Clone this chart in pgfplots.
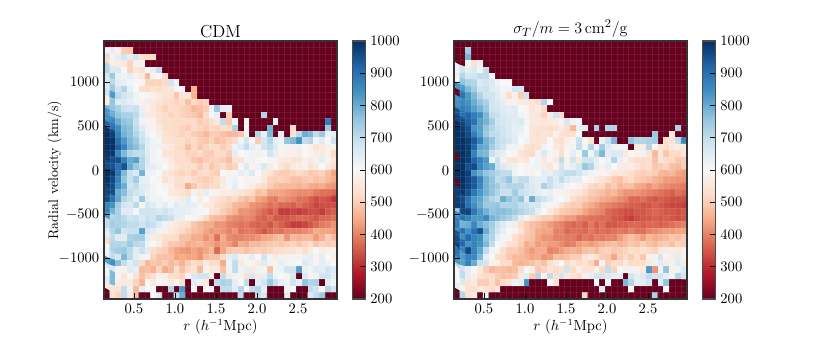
\documentclass[border=0pt]{standalone}
\usepackage{pgfplots}
\usepackage{pgfplotstable}
\pgfplotsset{compat=1.18}
\pgfplotstableread[row sep=crcr,header=false]{
200\\200\\200\\200\\200\\200\\200\\200\\200\\200\\ 200\\200\\200\\200\\200\\200\\200\\200\\200\\200\\ 200\\200\\200\\200\\200\\200\\200\\200\\200\\200\\ 200\\200\\200\\200\\200\\200\\200\\200\\200\\200\\
590\\640\\590\\500\\490\\200\\200\\200\\200\\200\\ 200\\200\\200\\200\\200\\200\\200\\200\\200\\200\\ 200\\200\\200\\200\\200\\200\\200\\200\\200\\200\\ 200\\200\\200\\200\\200\\200\\200\\200\\200\\200\\
690\\580\\640\\680\\640\\680\\540\\520\\520\\200\\ 200\\200\\200\\200\\200\\200\\200\\200\\200\\200\\ 200\\200\\200\\200\\200\\200\\200\\200\\200\\200\\ 200\\200\\200\\200\\200\\200\\200\\200\\200\\200\\
520\\580\\570\\560\\510\\580\\620\\200\\200\\200\\ 200\\200\\200\\200\\200\\200\\200\\200\\200\\200\\ 200\\200\\200\\200\\200\\200\\200\\200\\200\\200\\ 200\\200\\200\\200\\200\\200\\200\\200\\200\\200\\
720\\660\\660\\600\\510\\550\\530\\600\\640\\700\\ 200\\200\\200\\200\\200\\200\\200\\200\\200\\200\\ 200\\200\\200\\200\\200\\200\\200\\200\\200\\200\\ 200\\200\\200\\200\\200\\200\\200\\200\\200\\200\\
680\\750\\630\\620\\640\\580\\560\\470\\590\\600\\ 530\\200\\200\\200\\200\\200\\200\\200\\200\\200\\ 200\\200\\200\\200\\200\\200\\200\\200\\200\\200\\ 200\\200\\200\\200\\200\\200\\200\\200\\200\\200\\
660\\710\\650\\630\\610\\600\\590\\510\\510\\510\\ 520\\680\\620\\200\\200\\200\\200\\200\\200\\200\\ 200\\200\\200\\200\\200\\200\\200\\200\\200\\200\\ 200\\200\\200\\200\\200\\200\\200\\200\\200\\200\\
650\\750\\680\\720\\630\\600\\530\\520\\540\\530\\ 540\\550\\590\\610\\200\\460\\200\\200\\200\\200\\ 200\\200\\200\\200\\200\\200\\200\\200\\200\\200\\ 200\\200\\200\\200\\200\\200\\200\\200\\200\\200\\
680\\830\\710\\680\\660\\620\\600\\590\\580\\560\\ 540\\540\\490\\540\\550\\460\\200\\200\\200\\200\\ 200\\200\\200\\200\\200\\200\\200\\200\\200\\200\\ 200\\200\\200\\200\\200\\200\\200\\200\\200\\200\\
570\\760\\650\\660\\640\\620\\580\\570\\560\\545\\ 530\\520\\510\\520\\480\\520\\500\\510\\200\\200\\ 200\\200\\200\\200\\200\\200\\200\\200\\200\\200\\ 200\\200\\200\\200\\200\\200\\200\\200\\200\\200\\
780\\760\\730\\690\\680\\690\\630\\580\\560\\530\\ 510\\530\\520\\510\\500\\470\\480\\500\\620\\750\\ 640\\630\\200\\200\\200\\200\\200\\200\\200\\200\\ 200\\200\\200\\200\\200\\200\\200\\200\\200\\200\\
830\\800\\760\\730\\730\\710\\640\\560\\560\\540\\ 530\\510\\520\\510\\500\\490\\470\\520\\600\\630\\ 200\\500\\200\\200\\200\\200\\200\\720\\200\\200\\ 200\\200\\200\\200\\200\\200\\200\\200\\200\\200\\
840\\860\\800\\760\\750\\690\\620\\590\\580\\540\\ 530\\530\\520\\520\\520\\520\\500\\510\\530\\560\\ 700\\490\\620\\200\\620\\200\\200\\200\\200\\620\\ 200\\200\\200\\200\\200\\200\\200\\200\\880\\200\\
920\\900\\850\\780\\770\\700\\650\\620\\590\\560\\ 530\\530\\520\\510\\500\\520\\510\\500\\520\\510\\ 530\\520\\730\\200\\610\\200\\200\\200\\790\\200\\ 200\\200\\520\\200\\200\\200\\200\\200\\750\\200\\
1000\\980\\870\\790\\770\\720\\680\\620\\600\\570\\ 540\\530\\520\\510\\520\\500\\490\\470\\500\\500\\ 480\\470\\470\\490\\610\\200\\720\\630\\780\\200\\ 640\\200\\540\\710\\800\\780\\700\\750\\620\\640\\
1000\\1000\\900\\830\\780\\750\\690\\650\\620\\610\\ 550\\540\\530\\530\\510\\520\\500\\490\\510\\480\\ 490\\510\\530\\620\\680\\600\\500\\670\\720\\640\\ 620\\760\\780\\840\\700\\720\\620\\650\\600\\680\\
1000\\1000\\930\\870\\790\\770\\720\\640\\620\\620\\ 570\\560\\530\\520\\480\\520\\490\\510\\530\\520\\ 500\\520\\620\\650\\700\\640\\620\\680\\700\\650\\ 590\\620\\580\\620\\600\\580\\540\\560\\580\\590\\
1000\\990\\860\\780\\720\\700\\700\\650\\620\\600\\ 550\\540\\530\\530\\510\\510\\520\\500\\500\\520\\ 520\\500\\640\\600\\610\\620\\620\\590\\680\\640\\ 590\\580\\580\\570\\600\\590\\570\\560\\580\\520\\
990\\960\\950\\880\\800\\820\\720\\660\\620\\610\\ 580\\560\\530\\530\\520\\490\\480\\500\\510\\510\\ 500\\480\\540\\540\\590\\620\\600\\600\\610\\590\\ 560\\560\\540\\550\\580\\560\\620\\640\\590\\550\\
960\\950\\900\\950\\800\\750\\720\\650\\640\\620\\ 600\\570\\550\\530\\530\\530\\500\\530\\490\\510\\ 520\\500\\510\\610\\660\\590\\620\\660\\570\\590\\ 550\\520\\560\\570\\580\\540\\560\\600\\560\\530\\
1000\\990\\890\\780\\690\\660\\790\\620\\620\\600\\ 560\\540\\520\\510\\520\\500\\520\\530\\510\\500\\ 600\\590\\610\\640\\620\\660\\600\\560\\550\\510\\ 500\\500\\510\\520\\510\\490\\500\\510\\480\\440\\
1000\\970\\870\\760\\690\\740\\640\\630\\600\\590\\ 540\\560\\530\\530\\540\\520\\510\\500\\510\\530\\ 560\\610\\620\\600\\580\\590\\590\\560\\510\\500\\ 510\\500\\480\\480\\490\\500\\480\\490\\470\\450\\
990\\960\\850\\800\\680\\700\\650\\640\\620\\600\\ 590\\570\\530\\530\\450\\490\\530\\510\\520\\520\\ 570\\610\\640\\600\\580\\570\\540\\520\\500\\480\\ 470\\470\\470\\460\\470\\450\\440\\450\\430\\420\\
970\\960\\800\\770\\700\\680\\660\\630\\610\\600\\ 600\\560\\550\\540\\520\\620\\560\\640\\610\\580\\ 570\\570\\560\\550\\530\\520\\480\\490\\440\\440\\ 440\\430\\420\\410\\410\\410\\390\\380\\380\\370\\
960\\900\\810\\720\\690\\640\\750\\640\\620\\620\\ 600\\590\\580\\560\\650\\600\\570\\600\\560\\550\\ 530\\510\\520\\490\\470\\490\\440\\430\\400\\390\\ 420\\410\\400\\380\\380\\360\\340\\350\\340\\310\\
860\\840\\740\\680\\660\\710\\590\\670\\650\\620\\ 640\\610\\650\\630\\640\\630\\590\\570\\560\\520\\ 510\\500\\470\\460\\450\\420\\410\\400\\380\\390\\ 370\\370\\360\\380\\360\\350\\330\\340\\340\\340\\
880\\790\\730\\650\\650\\610\\680\\680\\680\\660\\ 680\\660\\640\\640\\630\\620\\610\\600\\540\\530\\ 500\\480\\460\\420\\420\\410\\390\\370\\350\\370\\ 320\\320\\330\\320\\330\\340\\340\\320\\350\\360\\
840\\720\\730\\710\\680\\690\\660\\690\\680\\720\\ 700\\690\\640\\630\\600\\590\\570\\520\\480\\470\\ 460\\420\\410\\400\\410\\400\\370\\360\\380\\350\\ 350\\350\\360\\370\\370\\360\\350\\370\\370\\380\\
700\\740\\730\\720\\700\\700\\680\\700\\690\\650\\ 620\\570\\560\\540\\530\\490\\470\\450\\450\\420\\ 420\\400\\390\\380\\390\\370\\360\\370\\350\\380\\ 360\\340\\320\\320\\330\\350\\370\\390\\400\\420\\
660\\720\\760\\680\\690\\690\\820\\670\\650\\620\\ 580\\560\\540\\520\\500\\480\\470\\440\\420\\430\\ 420\\400\\420\\380\\390\\390\\370\\350\\370\\390\\ 380\\400\\400\\400\\410\\420\\450\\440\\440\\430\\
640\\700\\650\\650\\730\\740\\740\\640\\570\\560\\ 530\\530\\520\\480\\480\\450\\450\\420\\440\\380\\ 450\\410\\400\\400\\410\\410\\420\\440\\450\\470\\ 480\\420\\470\\460\\470\\470\\430\\460\\500\\470\\
520\\720\\720\\710\\750\\710\\700\\620\\600\\570\\ 520\\490\\490\\480\\450\\460\\470\\450\\440\\420\\ 440\\430\\400\\450\\440\\470\\470\\480\\490\\500\\ 490\\500\\510\\490\\510\\530\\490\\510\\500\\510\\
600\\730\\740\\750\\710\\650\\690\\650\\530\\510\\ 500\\470\\440\\430\\420\\440\\420\\440\\470\\370\\ 440\\490\\500\\500\\480\\500\\510\\500\\510\\520\\ 530\\540\\540\\560\\530\\560\\600\\570\\580\\590\\
620\\700\\670\\780\\710\\640\\620\\590\\510\\480\\ 480\\480\\440\\450\\440\\440\\420\\470\\480\\480\\ 520\\640\\660\\620\\590\\640\\600\\680\\620\\560\\ 620\\580\\620\\620\\630\\640\\590\\640\\600\\580\\
820\\850\\770\\700\\640\\680\\520\\470\\490\\480\\ 500\\470\\490\\460\\500\\520\\510\\560\\520\\530\\ 450\\620\\700\\560\\610\\590\\560\\650\\620\\590\\ 640\\620\\610\\600\\660\\630\\610\\640\\620\\600\\
680\\660\\620\\580\\650\\640\\470\\480\\460\\510\\ 450\\470\\530\\480\\520\\540\\470\\590\\560\\560\\ 480\\620\\700\\620\\640\\560\\620\\590\\480\\610\\ 620\\680\\680\\820\\630\\620\\650\\640\\680\\650\\
620\\780\\590\\550\\600\\540\\480\\510\\530\\580\\ 570\\530\\520\\510\\590\\660\\680\\680\\580\\200\\ 700\\560\\620\\580\\530\\670\\560\\640\\700\\620\\ 600\\590\\660\\200\\660\\590\\620\\680\\680\\640\\
650\\780\\570\\560\\560\\510\\460\\600\\560\\600\\ 590\\560\\600\\540\\200\\640\\620\\560\\200\\700\\ 730\\720\\640\\600\\700\\200\\640\\680\\750\\690\\ 640\\620\\680\\640\\760\\720\\730\\200\\640\\620\\
560\\550\\540\\700\\620\\470\\640\\600\\600\\200\\ 200\\720\\200\\830\\200\\600\\200\\600\\620\\200\\ 700\\700\\640\\720\\600\\700\\720\\640\\200\\200\\ 200\\580\\600\\200\\200\\700\\680\\600\\720\\680\\
200\\540\\510\\700\\560\\480\\200\\200\\600\\650\\ 200\\200\\700\\800\\200\\200\\200\\200\\200\\200\\ 200\\200\\200\\700\\200\\200\\700\\660\\200\\200\\ 200\\640\\200\\200\\200\\660\\700\\750\\200\\200\\
}\tableA
\pgfplotstableread[row sep=crcr,header=false]{
200\\200\\200\\200\\200\\200\\200\\200\\200\\200\\ 200\\200\\200\\200\\200\\200\\200\\200\\200\\200\\ 200\\200\\200\\200\\200\\200\\200\\200\\200\\200\\ 200\\200\\200\\200\\200\\200\\200\\200\\200\\200\\
200\\200\\740\\200\\200\\200\\200\\200\\200\\200\\ 200\\200\\200\\200\\200\\200\\200\\200\\200\\200\\ 200\\200\\200\\200\\200\\200\\200\\200\\200\\200\\ 200\\200\\200\\200\\200\\200\\200\\200\\200\\200\\
200\\200\\790\\200\\200\\200\\200\\200\\200\\200\\ 200\\200\\200\\200\\200\\200\\200\\200\\200\\200\\ 200\\200\\200\\200\\200\\200\\200\\200\\200\\200\\ 200\\200\\200\\200\\200\\200\\200\\200\\200\\200\\
200\\200\\610\\540\\630\\200\\200\\200\\200\\200\\ 200\\200\\200\\200\\200\\200\\200\\200\\200\\200\\ 200\\200\\200\\200\\200\\200\\200\\200\\200\\200\\ 200\\200\\200\\200\\200\\200\\200\\200\\200\\200\\
620\\680\\640\\660\\610\\700\\200\\200\\200\\200\\ 200\\200\\200\\200\\200\\200\\200\\200\\200\\200\\ 200\\200\\200\\200\\200\\200\\200\\200\\200\\200\\ 200\\200\\200\\200\\200\\200\\200\\200\\200\\200\\
560\\720\\670\\680\\700\\700\\620\\200\\200\\200\\ 200\\200\\200\\200\\200\\200\\200\\200\\200\\200\\ 200\\200\\200\\200\\200\\200\\200\\200\\200\\200\\ 200\\200\\200\\200\\200\\200\\200\\200\\200\\200\\
610\\760\\730\\720\\660\\680\\660\\620\\600\\600\\ 200\\200\\200\\200\\200\\200\\200\\200\\200\\200\\ 200\\200\\200\\200\\200\\200\\200\\200\\200\\200\\ 200\\200\\200\\200\\200\\200\\200\\200\\200\\200\\
840\\830\\780\\740\\680\\690\\650\\640\\610\\620\\ 680\\670\\200\\200\\200\\200\\200\\200\\200\\200\\ 200\\200\\200\\200\\200\\200\\200\\200\\200\\200\\ 200\\200\\200\\200\\200\\200\\200\\200\\200\\200\\
200\\900\\830\\780\\720\\680\\680\\650\\620\\530\\ 580\\500\\680\\200\\200\\200\\200\\200\\200\\200\\ 200\\200\\200\\200\\200\\200\\200\\200\\200\\200\\ 200\\200\\200\\200\\200\\200\\200\\200\\200\\200\\
840\\860\\840\\800\\760\\730\\680\\660\\640\\580\\ 580\\560\\560\\550\\530\\720\\600\\200\\200\\200\\ 200\\200\\200\\200\\200\\200\\200\\200\\200\\200\\ 200\\200\\200\\200\\200\\200\\200\\200\\200\\200\\
850\\880\\860\\820\\790\\750\\680\\670\\650\\640\\ 650\\600\\590\\550\\570\\530\\200\\200\\200\\200\\ 200\\200\\200\\200\\200\\200\\200\\200\\200\\200\\ 200\\200\\200\\200\\200\\200\\200\\200\\200\\200\\
950\\900\\920\\880\\850\\780\\700\\690\\660\\650\\ 650\\620\\590\\560\\550\\510\\570\\680\\520\\200\\ 200\\200\\200\\200\\200\\200\\200\\200\\200\\200\\ 200\\200\\200\\200\\200\\200\\200\\200\\200\\200\\
970\\960\\930\\900\\820\\790\\740\\680\\670\\660\\ 650\\660\\610\\560\\560\\550\\560\\570\\590\\670\\ 620\\610\\200\\200\\200\\200\\200\\200\\200\\200\\ 200\\200\\200\\200\\200\\200\\200\\200\\200\\200\\
1000\\980\\950\\840\\820\\760\\720\\690\\680\\660\\ 640\\640\\600\\550\\540\\540\\530\\540\\570\\530\\ 470\\630\\640\\200\\730\\200\\720\\720\\200\\200\\ 200\\200\\200\\200\\200\\200\\200\\200\\730\\200\\
1000\\990\\960\\880\\820\\750\\700\\700\\680\\660\\ 640\\620\\600\\550\\530\\550\\540\\580\\540\\530\\ 540\\600\\200\\200\\200\\200\\200\\200\\200\\200\\ 200\\200\\200\\200\\750\\200\\200\\560\\200\\200\\
1000\\1000\\980\\940\\870\\790\\760\\700\\690\\670\\ 650\\600\\620\\550\\540\\550\\600\\550\\530\\570\\ 590\\690\\600\\540\\200\\630\\690\\780\\200\\200\\ 760\\720\\720\\730\\740\\200\\530\\550\\700\\860\\
1000\\1000\\980\\920\\810\\800\\740\\700\\680\\620\\ 620\\580\\540\\530\\540\\620\\600\\560\\540\\590\\ 620\\700\\620\\720\\620\\740\\660\\620\\610\\620\\ 200\\560\\570\\720\\600\\540\\530\\560\\570\\560\\
1000\\1000\\980\\870\\790\\780\\690\\650\\640\\600\\ 590\\550\\530\\520\\580\\660\\610\\580\\530\\600\\ 640\\610\\750\\620\\700\\780\\640\\660\\660\\560\\ 600\\580\\620\\540\\470\\550\\490\\520\\520\\550\\
200\\1000\\980\\920\\870\\830\\620\\690\\580\\550\\ 540\\570\\550\\600\\620\\560\\590\\560\\700\\580\\ 680\\560\\680\\680\\640\\600\\620\\720\\630\\610\\ 550\\530\\520\\530\\480\\550\\520\\520\\490\\500\\
1000\\1000\\950\\960\\860\\820\\800\\690\\660\\640\\ 620\\600\\590\\610\\620\\570\\550\\590\\680\\620\\ 640\\670\\750\\720\\640\\590\\640\\600\\570\\560\\ 570\\550\\520\\530\\490\\500\\510\\480\\470\\500\\
1000\\1000\\980\\840\\800\\760\\740\\720\\700\\700\\ 620\\600\\620\\580\\600\\640\\630\\660\\680\\700\\ 700\\680\\640\\620\\590\\590\\580\\550\\560\\540\\ 530\\510\\500\\510\\500\\470\\460\\470\\440\\430\\
1000\\1000\\970\\940\\870\\790\\760\\700\\720\\760\\ 680\\700\\700\\650\\640\\640\\690\\650\\700\\660\\ 640\\640\\600\\590\\560\\540\\520\\500\\480\\510\\ 520\\500\\490\\480\\460\\450\\430\\430\\420\\420\\
200\\1000\\970\\940\\860\\790\\760\\740\\700\\720\\ 720\\720\\680\\660\\640\\730\\690\\650\\640\\610\\ 600\\590\\560\\520\\510\\520\\480\\500\\470\\480\\ 480\\450\\440\\420\\440\\420\\410\\400\\400\\390\\
980\\990\\950\\890\\830\\790\\760\\720\\690\\690\\ 740\\690\\680\\660\\640\\620\\630\\610\\590\\580\\ 560\\550\\520\\500\\490\\480\\460\\470\\440\\420\\ 420\\420\\410\\400\\390\\380\\370\\360\\380\\370\\
980\\960\\900\\830\\810\\760\\720\\700\\800\\760\\ 720\\760\\650\\800\\700\\680\\650\\610\\600\\580\\ 530\\510\\500\\480\\470\\450\\440\\430\\410\\400\\ 370\\370\\380\\360\\350\\360\\350\\340\\340\\340\\
980\\970\\900\\850\\800\\750\\750\\760\\720\\720\\ 730\\700\\690\\670\\670\\620\\610\\580\\540\\510\\ 500\\500\\470\\450\\430\\410\\400\\390\\380\\370\\ 360\\360\\350\\350\\360\\350\\340\\330\\330\\320\\
740\\970\\970\\890\\830\\790\\760\\770\\770\\760\\ 740\\720\\700\\690\\640\\600\\560\\520\\500\\490\\ 480\\470\\440\\420\\410\\400\\370\\360\\350\\340\\ 340\\350\\350\\360\\370\\360\\350\\350\\340\\350\\
840\\900\\870\\830\\830\\860\\790\\770\\750\\730\\ 700\\640\\590\\550\\520\\500\\500\\470\\450\\430\\ 430\\400\\390\\380\\380\\370\\370\\350\\350\\330\\ 320\\340\\350\\350\\360\\350\\360\\350\\340\\350\\
880\\790\\800\\860\\800\\770\\740\\690\\650\\620\\ 570\\530\\500\\480\\470\\450\\430\\410\\400\\380\\ 370\\380\\360\\390\\360\\380\\350\\350\\360\\360\\ 370\\370\\360\\370\\370\\360\\370\\380\\390\\400\\
850\\900\\840\\900\\950\\800\\730\\680\\640\\600\\ 590\\540\\500\\480\\450\\440\\440\\400\\400\\370\\ 380\\380\\370\\390\\370\\380\\370\\380\\390\\380\\ 400\\380\\380\\400\\410\\420\\430\\430\\440\\440\\
950\\850\\910\\870\\850\\760\\720\\640\\610\\590\\ 530\\510\\490\\480\\440\\420\\420\\400\\400\\390\\ 390\\370\\390\\380\\400\\390\\400\\400\\430\\460\\ 480\\460\\430\\470\\450\\460\\470\\490\\480\\500\\
960\\920\\840\\870\\840\\780\\700\\600\\580\\540\\ 530\\500\\450\\470\\430\\440\\430\\430\\410\\390\\ 400\\430\\440\\430\\440\\460\\470\\480\\460\\470\\ 490\\480\\500\\480\\470\\490\\500\\480\\510\\500\\
980\\870\\960\\870\\810\\700\\620\\590\\530\\500\\ 500\\480\\450\\430\\450\\450\\400\\410\\430\\450\\ 460\\450\\480\\490\\470\\500\\510\\490\\500\\510\\ 530\\520\\540\\520\\510\\560\\570\\570\\560\\590\\
900\\830\\870\\860\\780\\640\\600\\530\\520\\490\\ 470\\470\\460\\440\\450\\420\\430\\480\\470\\480\\ 500\\500\\550\\560\\530\\500\\490\\440\\500\\520\\ 500\\530\\490\\580\\620\\680\\590\\570\\650\\580\\
840\\820\\870\\800\\690\\680\\580\\580\\520\\530\\ 470\\460\\470\\480\\500\\480\\530\\560\\600\\520\\ 560\\520\\540\\510\\450\\620\\500\\530\\520\\560\\ 520\\520\\530\\560\\620\\650\\570\\620\\650\\560\\
720\\680\\640\\600\\560\\500\\470\\480\\480\\470\\ 480\\530\\600\\570\\490\\510\\550\\520\\540\\680\\ 520\\570\\540\\540\\580\\520\\700\\510\\600\\580\\ 620\\580\\560\\830\\420\\620\\760\\580\\620\\660\\
600\\700\\640\\580\\540\\520\\530\\500\\480\\490\\ 500\\560\\650\\500\\720\\590\\700\\540\\680\\560\\ 540\\520\\620\\640\\680\\680\\660\\640\\640\\200\\ 680\\640\\660\\700\\680\\680\\640\\620\\720\\680\\
600\\660\\540\\560\\500\\500\\530\\480\\520\\540\\ 620\\640\\840\\200\\200\\200\\600\\540\\200\\200\\ 200\\200\\200\\200\\600\\200\\600\\200\\200\\780\\ 720\\640\\640\\680\\200\\640\\760\\200\\200\\200\\
640\\580\\540\\530\\560\\540\\520\\560\\200\\200\\ 200\\200\\200\\200\\200\\200\\200\\200\\200\\200\\ 200\\200\\200\\200\\200\\650\\200\\200\\200\\200\\ 600\\200\\200\\200\\200\\200\\600\\200\\200\\200\\
200\\720\\540\\560\\200\\600\\200\\200\\200\\200\\ 200\\200\\200\\200\\200\\200\\200\\200\\200\\200\\ 200\\200\\520\\200\\200\\200\\200\\200\\200\\200\\ 200\\200\\200\\200\\730\\200\\200\\200\\200\\200\\
}\tableB
\pgfplotsset{
  panel/.style={
    scale only axis, width=174.75pt, height=193.5pt,
    anchor=south west,
    xmin=0.135, xmax=2.975, ymin=-1455, ymax=1465,
    xtick={0.5,1,1.5,2,2.5},
    xticklabel style={/pgf/number format/fixed,/pgf/number format/fixed zerofill,/pgf/number format/precision=1},
    yticklabel style={/pgf/number format/1000 sep={}},
    ytick={-1000,-500,0,500,1000},
    tick align=inside, tick pos=left,
    major tick length=4.5pt,
    tick style={black, line width=0.6pt},
    axis line style={black!80, line width=0.9pt},
    axis on top,
    minor xtick={0.206,0.277,...,2.93},
    minor ytick={-1382,-1309,...,1400},
    minor tick length=0pt,
    xminorgrids, yminorgrids,
    minor grid style={white, opacity=0.08, line width=0.4pt},
    tick label style={font=\fontsize{10.5}{12}\selectfont},
    label style={font=\fontsize{10.5}{12}\selectfont},
    title style={font=\fontsize{13}{15}\selectfont, yshift=-7pt},
    xlabel={$r\ (h^{-1}\mathrm{Mpc})$},
    xlabel shift=-2pt,
    ylabel shift=-9pt,
    point meta min=200, point meta max=1000,
    colormap={RdBuX}{rgb255=(103,0,31) rgb255=(178,24,43) rgb255=(214,96,77) rgb255=(244,165,130) rgb255=(253,219,199) rgb255=(247,247,247) rgb255=(209,229,240) rgb255=(146,197,222) rgb255=(67,147,195) rgb255=(33,102,172) rgb255=(5,48,97)},
    colorbar,
    colorbar style={
      at={(parent axis.north east)}, anchor=north west, xshift=3pt,
      width=10pt, height=193.5pt, ytick={200,300,...,1000},
      yticklabel pos=right, ytick pos=right, tick align=inside,
      major tick length=4.5pt,
      axis line style={black!70, line width=0.9pt},
      tick style={black, line width=0.6pt},
      tick label style={font=\fontsize{10.5}{12}\selectfont},
      yticklabel style={/pgf/number format/1000 sep={}},
    },
  },
}
\begin{document}
\begin{tikzpicture}
\path[use as bounding box] (0,0) rectangle (622.5pt,256.5pt);
\begin{axis}[panel, at={(78pt,32.25pt)}, title={CDM}, ylabel={Radial velocity (km/s)}]
\addplot[matrix plot*, mesh/cols=40, point meta=explicit] table[x index=0, y index=0, x expr={0.1705+0.071*mod(\coordindex,40)}, y expr={1428.5-73*floor(\coordindex/40)}, meta index=0] {\tableA};
\end{axis}
\begin{axis}[panel, at={(340.5pt,32.25pt)}, title={$\sigma_T/m = 3\,\mathrm{cm}^2/\mathrm{g}$}]
\addplot[matrix plot*, mesh/cols=40, point meta=explicit] table[x index=0, y index=0, x expr={0.1705+0.071*mod(\coordindex,40)}, y expr={1428.5-73*floor(\coordindex/40)}, meta index=0] {\tableB};
\end{axis}
\end{tikzpicture}
\end{document}
